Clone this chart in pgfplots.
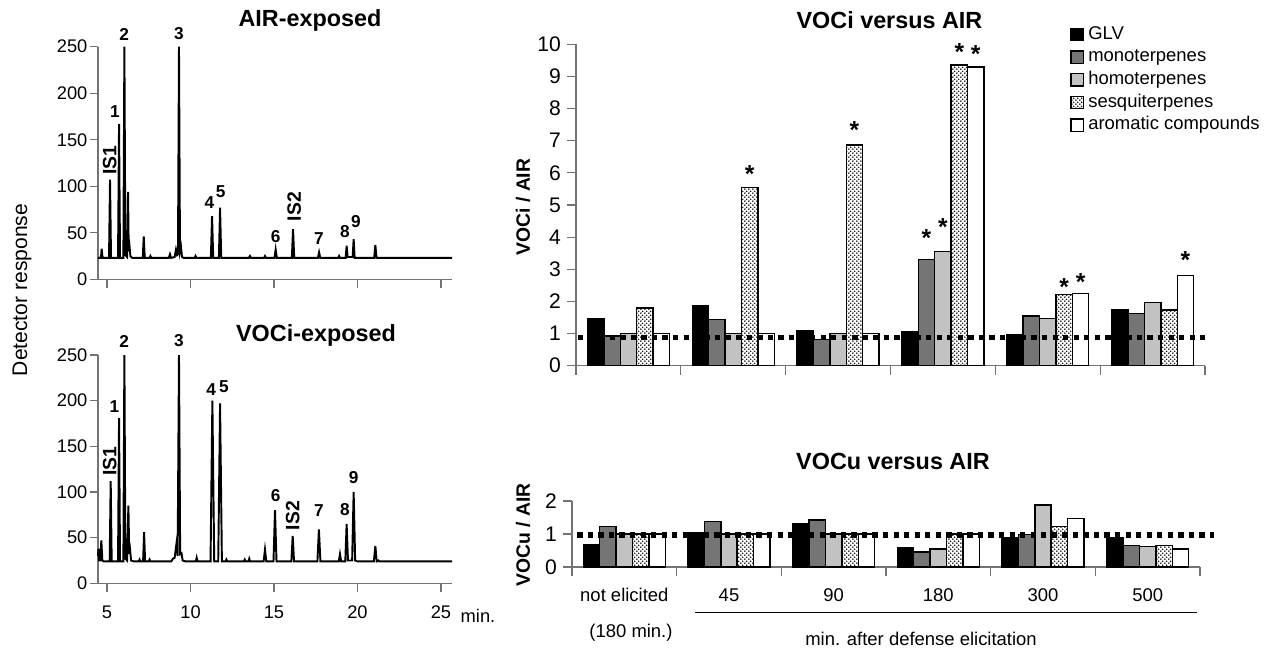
\documentclass[border=0pt]{standalone}
\usepackage{fontspec}
\setmainfont{Liberation Sans}
\usepackage{pgfplots}
\usepackage{pgfplotstable}
\pgfplotsset{compat=1.18}
\usetikzlibrary{patterns}

\definecolor{axisgray}{gray}{0.45}
\definecolor{monogray}{gray}{0.46}
\definecolor{homogray}{gray}{0.76}

% fine stipple for the sesquiterpene bars
\pgfdeclarepatternformonly{finedots}{\pgfpointorigin}{\pgfpoint{2.4pt}{2.4pt}}{\pgfpoint{2.4pt}{2.4pt}}{%
  \pgfpathcircle{\pgfpoint{0.6pt}{0.6pt}}{0.55pt}\pgfusepath{fill}%
  \pgfpathcircle{\pgfpoint{1.8pt}{1.8pt}}{0.55pt}\pgfusepath{fill}}

\newcommand{\pk}{\bfseries\fontsize{9.8}{10}\selectfont}
\newcommand{\isf}{\bfseries\fontsize{11}{11}\selectfont}
\newcommand{\st}{\bfseries\fontsize{14}{14}\selectfont}
\newcommand{\ttl}{\bfseries\fontsize{13.3}{14}\selectfont}

\pgfplotstableread{
g glv  mono homo sesq arom
0 1.46 0.93 1.00 1.79 1.00
1 1.88 1.44 1.00 5.55 1.00
2 1.09 0.81 1.00 6.87 1.00
3 1.05 3.31 3.55 9.36 9.30
4 0.98 1.55 1.47 2.22 2.25
5 1.73 1.63 1.96 1.73 2.81
}\voci

\pgfplotstableread{
g glv  mono homo sesq arom
0 0.67 1.22 1.00 1.00 1.00
1 1.05 1.38 1.00 1.00 1.00
2 1.30 1.42 1.00 1.00 1.00
3 0.60 0.45 0.55 1.00 1.00
4 0.88 0.98 1.88 1.22 1.47
5 0.88 0.66 0.62 0.66 0.55
}\vocu

\pgfplotsset{
  chrom/.style={
    scale only axis, width=7.08cm,
    xmin=4.46, xmax=25.66, ymin=0, ymax=250,
    axis lines*=left,
    axis line style={axisgray, line width=0.6pt},
    tick style={axisgray, line width=0.6pt},
    tick align=outside, major tick length=0.17cm,
    xtick={5,10,...,25}, ytick={0,50,...,250},
    ticklabel style={font=\fontsize{10.4}{11}\selectfont},
    yticklabel style={inner sep=1pt},
    /pgf/number format/assume math mode=true,
    clip=false,
  },
  trace/.style={black, line width=1.1pt, mark=none},
  ratio/.style={
    scale only axis,
    xmin=-0.5, xmax=5.5, ymin=0,
    axis lines*=left,
    axis line style={axisgray, line width=0.6pt},
    tick style={axisgray, line width=0.6pt},
    tick align=outside, major tick length=0.18cm,
    xtick={-0.5,0.5,...,5.5},
    ticklabel style={font=\fontsize{12}{13}\selectfont},
    /pgf/number format/assume math mode=true,
    clip=false,
  },
  sqlegend/.style={legend image code/.code={\draw[##1] (0cm,-0.125cm) rectangle (0.25cm,0.125cm);}},
  bars/.style={ybar, bar width=0.1565, draw=black, line width=0.8pt, sqlegend},
  refline/.style={sharp plot, black, line width=3pt, dash pattern=on 3pt off 3pt, forget plot},
}

\begin{document}
\begin{tikzpicture}
\path[use as bounding box] (0,0) rectangle (25.4cm,-12.96cm);

% ---------------- chromatogram, AIR-exposed ----------------
\begin{axis}[chrom, height=4.652cm, at={(1.96cm,-5.586cm)}, anchor=south west, xticklabels={}]
\addplot[trace] coordinates {
(4.46,23)(4.62,23)(4.65,26)(4.68,33)(4.71,26)(4.75,23)(5.12,23)(5.18,107)(5.24,23)
(5.66,23)(5.72,167)(5.78,23)(5.98,23)(6.04,250)(6.1,26)(6.2,24)(6.26,94)(6.3,30)
(6.35,35)(6.4,25)(6.5,23)(7.14,23)(7.2,46)(7.26,23)(7.55,23)(7.6,25)(7.65,23)
(8.7,23)(8.77,27)(8.84,23)(9.05,24)(9.13,32)(9.2,26)(9.25,27)(9.31,250)(9.37,30)
(9.43,35)(9.49,24)(9.6,23)(10.25,23)(10.3,25)(10.35,23)(11.22,23)(11.29,68)(11.36,23)
(11.7,23)(11.77,77)(11.84,23)(13.5,23)(13.56,25)(13.62,23)(14.4,23)(14.46,25)(14.52,23)
(15.03,23)(15.1,32)(15.17,23)(16.07,23)(16.14,54)(16.21,23)(17.63,23)(17.7,29)(17.77,23)
(18.85,23)(18.9,25)(18.95,23)(19.29,23)(19.35,36)(19.41,24)(19.71,24)(19.77,43)(19.83,23)
(21.0,23)(21.07,37)(21.14,23)(25.66,23)};
\node[font=\pk] at (axis cs:6.02,263) {2};
\node[font=\pk] at (axis cs:9.31,264) {3};
\node[font=\pk] at (axis cs:5.48,180) {1};
\node[font=\isf, rotate=90] at (axis cs:5.16,128) {IS1};
\node[font=\pk] at (axis cs:11.13,83) {4};
\node[font=\pk] at (axis cs:11.8,94) {5};
\node[font=\pk] at (axis cs:15.1,46) {6};
\node[font=\isf, rotate=90] at (axis cs:16.21,78) {IS2};
\node[font=\pk] at (axis cs:17.69,44) {7};
\node[font=\pk] at (axis cs:19.25,51) {8};
\node[font=\pk] at (axis cs:19.91,62) {9};
\end{axis}

% ---------------- chromatogram, VOCi-exposed ----------------
\begin{axis}[chrom, height=4.566cm, at={(1.96cm,-11.666cm)}, anchor=south west,
  xticklabel style={yshift=-0.15cm}]
\addplot[trace] coordinates {
(4.46,30)(4.49,38)(4.53,25)(4.6,25)(4.66,47)(4.72,25)(4.8,24)(5.16,24)(5.22,112)(5.28,24)
(5.66,24)(5.72,181)(5.78,24)(5.98,24)(6.04,250)(6.1,27)(6.2,25)(6.28,85)(6.33,32)
(6.38,37)(6.44,25)(6.6,24)(6.9,24)(6.95,26)(7.0,24)(7.16,24)(7.22,56)(7.28,24)
(7.5,24)(7.55,26)(7.6,24)(8.85,24)(8.95,27)(9.05,28)(9.17,45)(9.23,30)(9.31,250)
(9.38,32)(9.46,33)(9.53,25)(9.7,24)(10.32,24)(10.37,28)(10.42,24)(11.2,24)(11.31,200)
(11.42,24)(11.66,24)(11.77,197)(11.88,24)(12.1,24)(12.15,26)(12.2,24)(13.2,24)(13.25,26)
(13.3,24)(13.47,24)(13.52,27)(13.57,24)(14.38,24)(14.46,37)(14.54,24)(14.97,24)(15.06,80)
(15.15,24)(16.04,24)(16.12,52)(16.2,24)(17.6,24)(17.69,59)(17.78,24)(18.88,24)(18.95,32)
(19.02,24)(19.27,24)(19.35,65)(19.43,25)(19.68,25)(19.77,100)(19.86,25)(20.0,24)
(20.98,24)(21.07,41)(21.15,24)(21.25,25)(21.3,24)(25.66,24)};
\node[font=\pk] at (axis cs:6.02,265) {2};
\node[font=\pk] at (axis cs:9.31,266) {3};
\node[font=\pk] at (axis cs:5.44,194) {1};
\node[font=\isf, rotate=90] at (axis cs:5.16,134) {IS1};
\node[font=\pk] at (axis cs:11.23,212) {4};
\node[font=\pk] at (axis cs:12.0,215) {5};
\node[font=\pk] at (axis cs:15.1,96) {6};
\node[font=\isf, rotate=90] at (axis cs:16.12,74) {IS2};
\node[font=\pk] at (axis cs:17.69,80) {7};
\node[font=\pk] at (axis cs:19.25,81) {8};
\node[font=\pk] at (axis cs:19.77,116) {9};
\end{axis}

\node[font=\ttl] at (6.2cm,-0.4cm) {AIR-exposed};
\node[font=\ttl] at (6.32cm,-6.7cm) {VOCi-exposed};
\node[font=\fontsize{12}{13}\selectfont, rotate=90] at (0.44cm,-5.8cm) {Detector response};
\node[font=\fontsize{10.4}{11}\selectfont] at (9.56cm,-12.32cm) {min.};

% ---------------- VOCi versus AIR ----------------
\begin{axis}[ratio, width=12.58cm, height=6.428cm, at={(11.52cm,-7.314cm)}, anchor=south west,
  ymax=10, ytick={0,...,10}, xticklabels={},
  legend style={at={(0.7854,1.058)}, anchor=north west, draw=none, fill=none, inner sep=0pt,
    font=\fontsize{10.5}{12}\selectfont, row sep=3.2pt,
    nodes={inner sep=0pt, text height=0.75em, text depth=0.22em},
    /tikz/every odd column/.style={column sep=0.08cm}},
  legend cell align=left]
\addplot[bars, bar shift=-0.313, fill=black] table[x=g,y=glv]{\voci};
\addlegendentry{GLV}
\addplot[bars, bar shift=-0.1565, fill=monogray] table[x=g,y=mono]{\voci};
\addlegendentry{monoterpenes}
\addplot[bars, bar shift=0, fill=homogray] table[x=g,y=homo]{\voci};
\addlegendentry{homoterpenes}
\addplot[bars, bar shift=0.1565, pattern=finedots] table[x=g,y=sesq]{\voci};
\addlegendentry{sesquiterpenes}
\addplot[bars, bar shift=0.313, fill=white] table[x=g,y=arom]{\voci};
\addlegendentry{aromatic compounds}
\addplot[refline] coordinates {(-0.48,0.88)(5.55,0.88)};
\node[font=\st] at (axis cs:1.1565,5.95) {*};
\node[font=\st] at (axis cs:2.1565,7.33) {*};
\node[font=\st] at (axis cs:2.8435,3.96) {*};
\node[font=\st] at (axis cs:3.0,4.30) {*};
\node[font=\st] at (axis cs:3.1565,9.76) {*};
\node[font=\st] at (axis cs:3.313,9.71) {*};
\node[font=\st] at (axis cs:4.1565,2.45) {*};
\node[font=\st] at (axis cs:4.313,2.61) {*};
\node[font=\st] at (axis cs:5.313,3.28) {*};
\end{axis}

% ---------------- VOCu versus AIR ----------------
\begin{axis}[ratio, width=12.56cm, height=1.32cm, at={(11.44cm,-11.34cm)}, anchor=south west,
  ymax=2, ytick={0,1,2},
  xticklabels={not elicited,45,90,180,300,500,{}},
  xticklabel style={font=\fontsize{10.5}{11}\selectfont, xshift=1.0467cm, anchor=base, yshift=-0.5cm}]
\addplot[bars, bar shift=-0.313, fill=black] table[x=g,y=glv]{\vocu};
\addplot[bars, bar shift=-0.1565, fill=monogray] table[x=g,y=mono]{\vocu};
\addplot[bars, bar shift=0, fill=homogray] table[x=g,y=homo]{\vocu};
\addplot[bars, bar shift=0.1565, pattern=finedots] table[x=g,y=sesq]{\vocu};
\addplot[bars, bar shift=0.313, fill=white] table[x=g,y=arom]{\vocu};
\addplot[refline] coordinates {(-0.45,0.97)(5.63,0.97)};
\end{axis}

\node[font=\ttl] at (17.79cm,-0.4cm) {VOCi versus AIR};
\node[font=\ttl] at (17.86cm,-9.22cm) {VOCu versus AIR};
\node[font=\bfseries\fontsize{11}{12}\selectfont, rotate=90] at (10.46cm,-4.14cm) {VOCi / AIR};
\node[font=\bfseries\fontsize{11}{12}\selectfont, rotate=90] at (10.46cm,-10.7cm) {VOCu / AIR};
\node[font=\fontsize{10.5}{11}\selectfont, anchor=base] at (12.62cm,-12.74cm) {(180 min.)};
\draw[black, line width=0.8pt] (13.9cm,-12.254cm) -- (23.94cm,-12.254cm);
\node[font=\fontsize{10.5}{11}\selectfont, anchor=base] at (18.42cm,-12.9cm) {min. after defense elicitation};
\end{tikzpicture}
\end{document}
